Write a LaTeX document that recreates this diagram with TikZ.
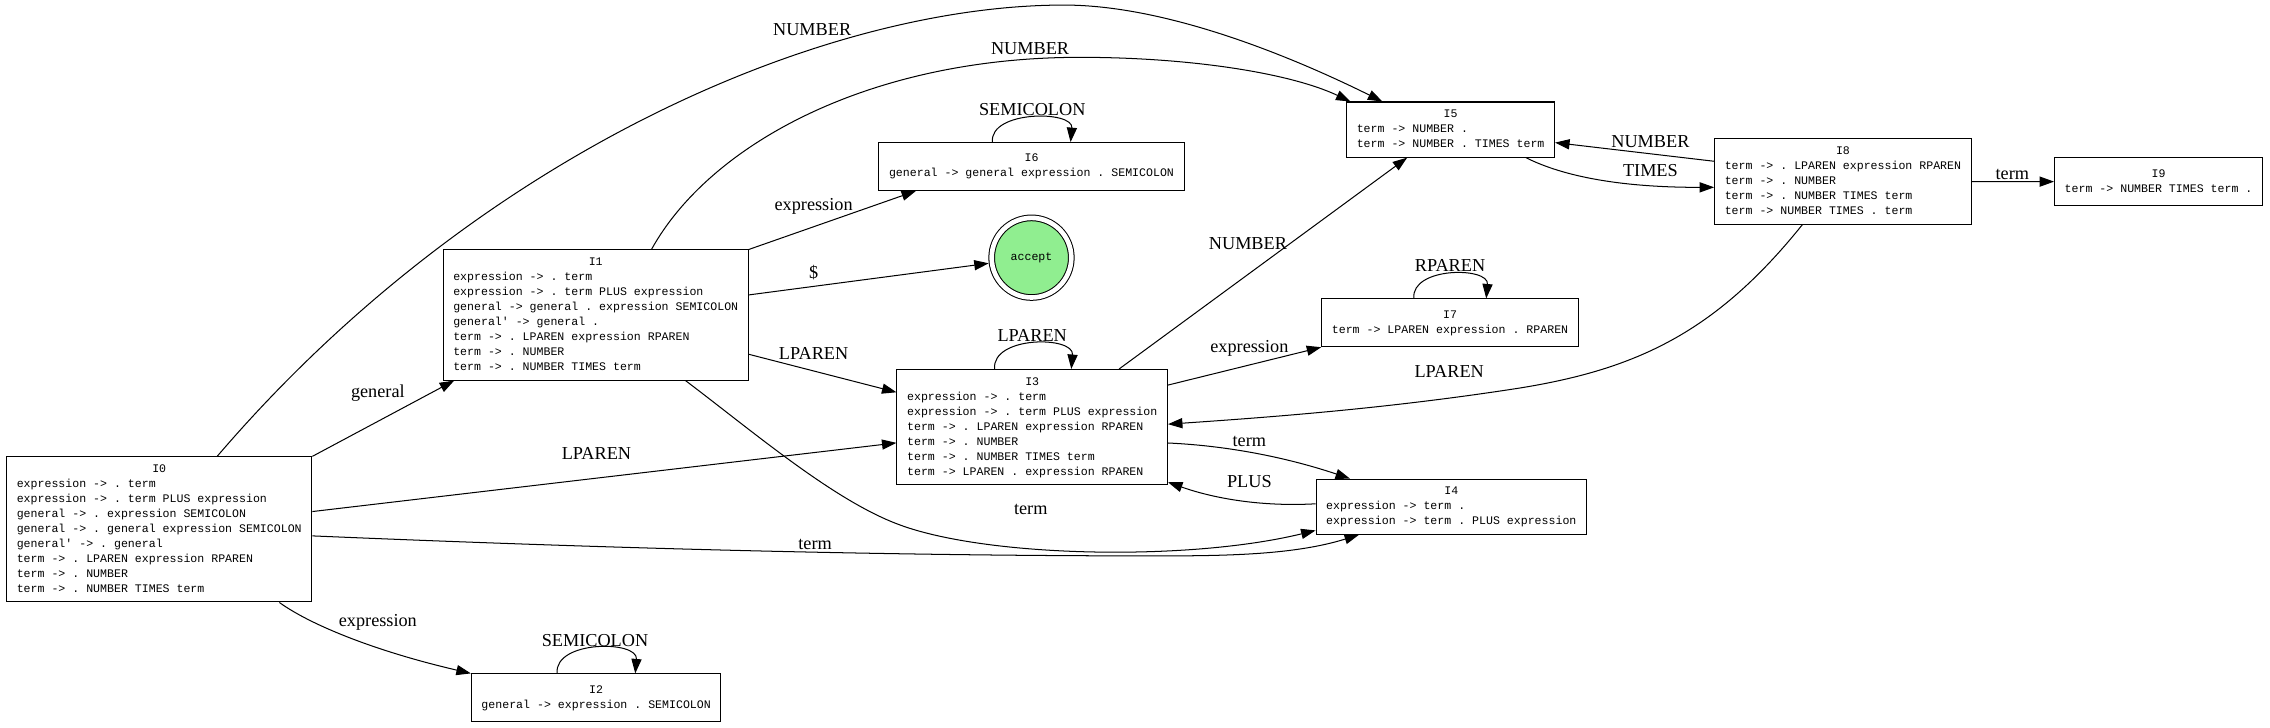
\documentclass[tikz,border=0pt]{standalone}
\usepackage{fontspec}
\setmainfont{Liberation Serif}
\setmonofont{Liberation Mono}
\usetikzlibrary{arrows.meta}
\definecolor{lightgreen}{HTML}{90EE90}
\newcommand{\itemset}[2]{\begin{tabular}{@{}l@{}}\multicolumn{1}{@{}c@{}}{#1}\\#2\end{tabular}}

\begin{document}
\begin{tikzpicture}[
        x=1pt, y=-1pt,
        itembox/.style={rectangle, draw, line width=0.7pt, font=\ttfamily\fontsize{8}{10.36}\selectfont, inner xsep=7pt, inner ysep=3.5pt, minimum height=33pt},
        acceptnode/.style={circle, draw, line width=0.7pt, double, double distance=3.2pt, fill=lightgreen, minimum size=55pt, inner sep=0pt, outer sep=2.3pt, font=\ttfamily\fontsize{8}{10.36}\selectfont},
        arrow/.style={-{Triangle[length=10pt, width=7pt]}, line width=0.7pt},
        lbl/.style={font=\fontsize{12.6}{14}\selectfont, inner sep=0pt}
        ]
        \useasboundingbox (0,0) rectangle (1568,502.2);

        % Nodes
        \node (I0) [itembox] at (110,365.7) {\itemset{I0}{expression -> . term\\expression -> . term PLUS expression\\general -> . expression SEMICOLON\\general -> . general expression SEMICOLON\\general' -> . general\\term -> . LPAREN expression RPAREN\\term -> . NUMBER\\term -> . NUMBER TIMES term}};
        \node (I1) [itembox] at (411.5,217.6) {\itemset{I1}{expression -> . term\\expression -> . term PLUS expression\\general -> general . expression SEMICOLON\\general' -> general .\\term -> . LPAREN expression RPAREN\\term -> . NUMBER\\term -> . NUMBER TIMES term}};
        \node (I2) [itembox] at (411.8,482) {\itemset{I2}{general -> expression . SEMICOLON}};
        \node (I3) [itembox] at (713,295) {\itemset{I3}{expression -> . term\\expression -> . term PLUS expression\\term -> . LPAREN expression RPAREN\\term -> . NUMBER\\term -> . NUMBER TIMES term\\term -> LPAREN . expression RPAREN}};
        \node (I4) [itembox] at (1002.5,350) {\itemset{I4}{expression -> term .\\expression -> term . PLUS expression}};
        \node (I5) [itembox] at (1002,89.5) {\itemset{I5}{term -> NUMBER .\\term -> NUMBER . TIMES term}};
        \node (I6) [itembox] at (712.5,115) {\itemset{I6}{general -> general expression . SEMICOLON}};
        \node (accept) [acceptnode] at (712.5,178) {accept};
        \node (I7) [itembox] at (1001.6,223) {\itemset{I7}{term -> LPAREN expression . RPAREN}};
        \node (I8) [itembox] at (1273,125.4) {\itemset{I8}{term -> . LPAREN expression RPAREN\\term -> . NUMBER\\term -> . NUMBER TIMES term\\term -> NUMBER TIMES . term}};
        \node (I9) [itembox] at (1491,125.5) {\itemset{I9}{term -> NUMBER TIMES term .}};

        % Arrows with labels
        \draw [arrow] (I0.north east) -- ([xshift=8pt]I1.south west) node[lbl] at (261,271.5) {general};
        \draw [arrow] ([xshift=40pt]I0.north) .. controls (330,105) and (570,3.5) .. (735,3.5) .. controls (805,3.5) and (890,38) .. ([xshift=25pt]I5.north west) node[lbl] at (561,20.3) {NUMBER};
        \draw [arrow] (I0) -- (I3) node[lbl] at (412,313) {LPAREN};
        \draw [arrow] (I0) .. controls (400,378) and (600,384) .. (800,384) .. controls (850,384) and (895,383) .. ([xshift=30pt]I4.south west) node[lbl] at (563,376.4) {term};
        \draw [arrow] ([xshift=83pt]I0.south) .. controls (215,432) and (260,450) .. (I2.north west) node[lbl] at (261,430) {expression};
        \draw [arrow] ([xshift=-27pt]I2.north) .. controls +(-2,-23) and +(2,-23) .. ([xshift=27pt]I2.north) node[lbl] at (411,442.8) {SEMICOLON};

        \draw [arrow] ([xshift=38.5pt]I1.north) .. controls (490,100) and (600,39.6) .. (746,39.6) .. controls (820,39.6) and (890,50) .. ([xshift=3pt]I5.north west) node[lbl] at (711.5,33.8) {NUMBER};
        \draw [arrow] (I1.north east) -- ([xshift=26pt]I6.south west) node[lbl] at (562,142.3) {expression};
        \draw [arrow] (I1) -- (accept) node[lbl] at (562,188.4) {\$};
        \draw [arrow] (I1) -- (I3) node[lbl] at (562,243.9) {LPAREN};
        \draw [arrow] ([xshift=62pt]I1.south) .. controls (520,298) and (575,345) .. (620,362) .. controls (680,385) and (820,388) .. ([yshift=3pt]I4.south west) node[lbl] at (712,352) {term};

        \draw [arrow] ([xshift=-27pt]I6.north) .. controls +(-2,-22) and +(2,-22) .. ([xshift=27pt]I6.north) node[lbl] at (713,76) {SEMICOLON};
        \draw [arrow] ([xshift=-26pt]I3.north) .. controls +(-2,-23) and +(2,-23) .. ([xshift=27pt]I3.north) node[lbl] at (713,232) {LPAREN};
        \draw [arrow] ([xshift=-25pt]I7.north) .. controls +(-2,-22) and +(2,-22) .. ([xshift=25pt]I7.north) node[lbl] at (1001.6,183.7) {RPAREN};

        \draw [arrow] ([xshift=60pt]I3.north) -- ([xshift=-30pt]I5.south) node[lbl] at (862,168) {NUMBER};
        \draw [arrow] ([yshift=29pt]I3.east) -- (I7.south west) node[lbl] at (863,240.5) {expression};
        \draw [arrow] ([yshift=-11pt]I3.east) .. controls (851,308) and (892,317) .. ([xshift=-70pt]I4.north) node[lbl] at (863,305) {term};
        \draw [arrow] ([yshift=2pt]I4.west) .. controls (873.5,350) and (840.5,345) .. ([yshift=2pt]I3.south east) node[lbl] at (863,332.6) {PLUS};

        \draw [arrow] ([xshift=52pt]I5.south) .. controls (1080,122) and (1120,129.5) .. ([yshift=-4pt]I8.west) node[lbl] at (1140,117.9) {TIMES};
        \draw [arrow] ([yshift=14pt]I8.west) -- ([yshift=-9pt]I5.east) node[lbl] at (1140,97.9) {NUMBER};
        \draw [arrow] (I8) -- (I9) node[lbl] at (1390,120.4) {term};
        \draw [arrow] ([xshift=-28pt]I8.south) .. controls (1185,230) and (1130,255) .. (1050,268) .. controls (960,282) and (880,288) .. ([yshift=2pt]I3.east) node[lbl] at (1001,256.7) {LPAREN};

    \end{tikzpicture}
\end{document}
